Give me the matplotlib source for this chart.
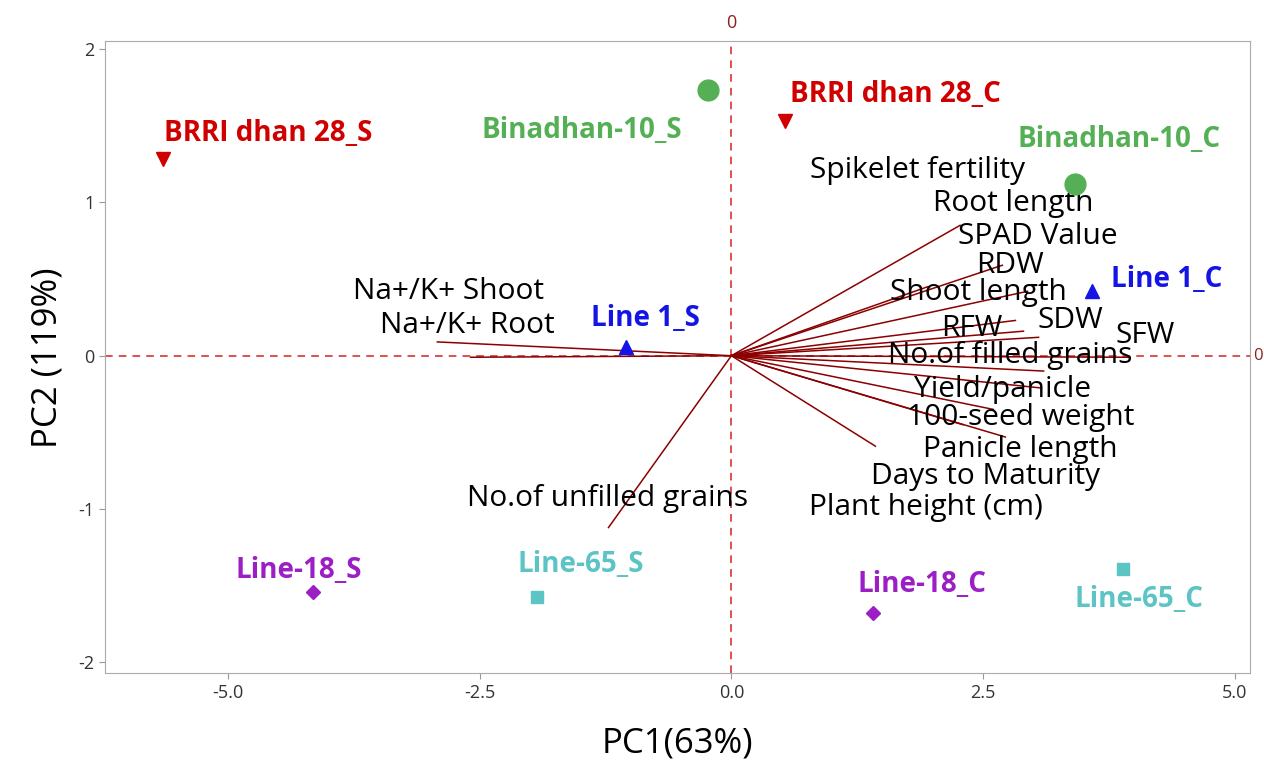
import matplotlib
matplotlib.use("Agg")
import matplotlib.pyplot as plt

# PCA scores (genotype x treatment)
samples = ["BRRI dhan 28_S", "Binadhan-10_S", "BRRI dhan 28_C", "Binadhan-10_C",
           "Line 1_C", "Line 1_S", "Line-18_S", "Line-65_S", "Line-18_C", "Line-65_C"]
pc1 = [-5.64, -0.23, 0.53, 3.41, 3.58, -1.05, -4.15, -1.93, 1.41, 3.89]
pc2 = [1.28, 1.73, 1.53, 1.12, 0.42, 0.06, -1.54, -1.57, -1.68, -1.39]

# loadings (scaled)
traits = ["Spikelet fertility", "Root length", "SPAD Value", "RDW", "Shoot length",
          "RFW", "SDW", "SFW", "No.of filled grains", "Yield/panicle",
          "100-seed weight", "Panicle length", "Days to Maturity", "Plant height (cm)",
          "Na+/K+ Shoot", "Na+/K+ Root", "No.of unfilled grains"]
load1 = [2.27, 2.69, 1.95, 2.94, 2.82, 2.90, 3.05, 3.96, 3.10, 3.07,
         2.72, 1.43, 2.60, 2.30, -2.59, -2.92, -1.22]
load2 = [0.85, 0.59, 0.45, 0.42, 0.23, 0.16, 0.12, -0.01, -0.10, -0.21,
         -0.53, -0.59, -0.35, -0.45, -0.01, 0.09, -1.12]

# styling / label placement
colors = {"BRRI": "#d00000", "Bina": "#55b055", "Line 1": "#1414e6",
          "Line-18": "#9b1fc4", "Line-65": "#5cc4c4"}
markers = {"BRRI": "v", "Bina": "o", "Line 1": "^", "Line-18": "D", "Line-65": "s"}
msize = {"BRRI": 10, "Bina": 15, "Line 1": 10, "Line-18": 7, "Line-65": 8}
sample_lab = [(-4.60, 1.45), (-1.49, 1.47), (1.63, 1.70), (3.85, 1.41), (4.32, 0.50),
              (-0.85, 0.24), (-4.30, -1.40), (-1.50, -1.36), (1.89, -1.49), (4.05, -1.59)]
trait_lab = [(1.85, 1.21), (2.80, 0.99), (3.04, 0.78), (2.77, 0.59), (2.45, 0.41),
             (2.39, 0.18), (3.37, 0.23), (4.11, 0.13), (2.77, 0.0), (2.69, -0.22),
             (2.87, -0.40), (2.87, -0.61), (2.52, -0.79), (1.93, -0.99),
             (-2.81, 0.42), (-2.62, 0.20), (-1.23, -0.93)]


def group(name):
    for k in ["BRRI", "Bina", "Line 1", "Line-18", "Line-65"]:
        if name.startswith(k):
            return k


plt.rcParams["font.family"] = ["Open Sans", "DejaVu Sans"]
fig = plt.figure(figsize=(12.64, 7.65), dpi=100)
ax = fig.add_axes([0.083, 0.12, 0.906, 0.826])

ax.axhline(0, color="#d62020", ls=(0, (5, 4)), lw=1.1, zorder=1)
ax.axvline(0, color="#d62020", ls=(0, (5, 4)), lw=1.1, zorder=1)

for x, y in zip(load1, load2):
    ax.plot([0, x], [0, y], color="#8b0000", lw=1.1, zorder=2)

for t, (lx, ly) in zip(traits, trait_lab):
    ax.text(lx, ly, t, fontsize=21.5, ha="center", va="center", color="black", zorder=3)

for s, x, y, (lx, ly) in zip(samples, pc1, pc2, sample_lab):
    g = group(s)
    ax.plot(x, y, marker=markers[g], color=colors[g], ms=msize[g], ls="none", zorder=4)
    ax.text(lx, ly, s, fontsize=20, fontweight="bold", ha="center", va="center",
            color=colors[g], zorder=4)

ax.set_xlim(-6.22, 5.15)
ax.set_ylim(-2.07, 2.05)
ax.set_xticks([-5, -2.5, 0, 2.5, 5])
ax.set_xticklabels(["-5.0", "-2.5", "0.0", "2.5", "5.0"])
ax.set_yticks([-2, -1, 0, 1, 2])
ax.set_yticklabels(["-2", "-1", "0", "1", "2"])
ax.tick_params(colors="#333333", labelsize=13, length=4, color="#999999")
for sp in ax.spines.values():
    sp.set_color("#aaaaaa")

ax.set_xlabel("PC1(63%)", fontsize=25, labelpad=18)
ax.set_ylabel("PC2 (119%)", fontsize=25, labelpad=10)

ax.text(0, 1.015, "0", transform=ax.get_xaxis_transform(), ha="center", va="bottom",
        color="#8b2020", fontsize=13)
ax.text(1.003, 0, "0", transform=ax.get_yaxis_transform(), ha="left", va="center",
        color="#8b2020", fontsize=12)

fig.savefig("out.png", dpi=100)
